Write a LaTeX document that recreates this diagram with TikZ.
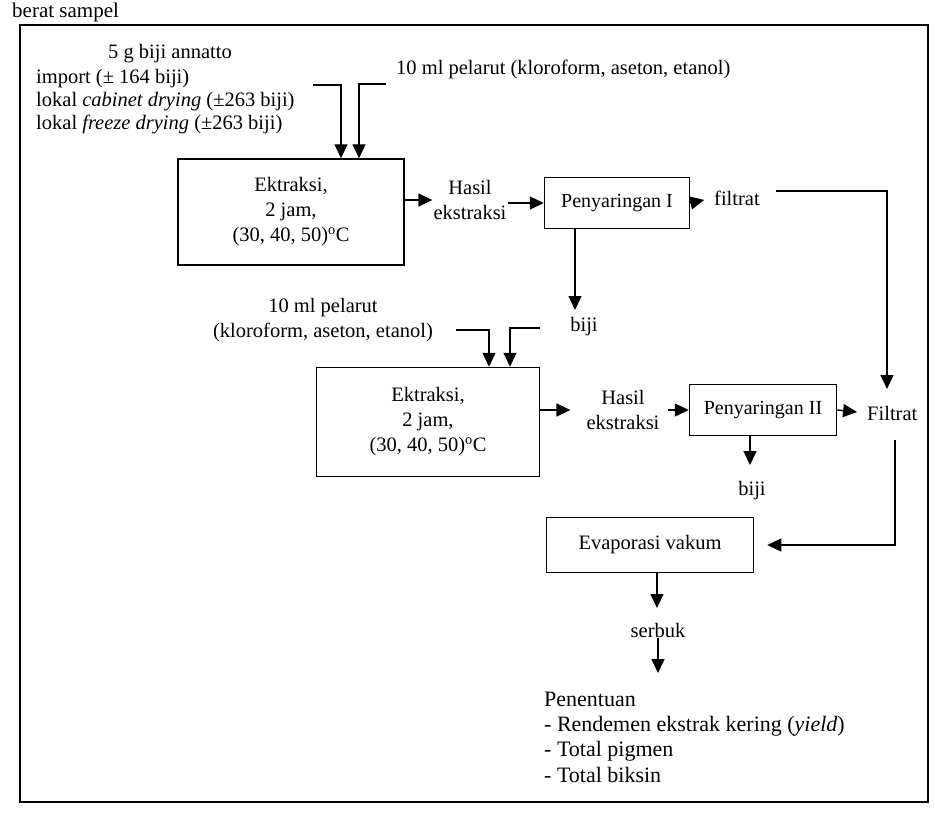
\documentclass[tikz,border=0pt]{standalone}
\usepackage{fontspec}
\setmainfont{Liberation Serif}
\usetikzlibrary{arrows.meta,calc}
\begin{document}
\begin{tikzpicture}[x=1pt,y=-1pt,
  base/.style={font=\fontsize{20.5}{25}\selectfont},
  box/.style={draw, line width=1.5pt, align=center, inner sep=0pt, base},
  pbox/.style={box, font=\fontsize{20}{23}\selectfont},
  lbl/.style={inner sep=1pt, align=center, base},
  arr/.style={line width=1.4pt, -{Triangle[length=14pt,width=13pt]}},
  frame/.style={draw, line width=1.7pt}]
\useasboundingbox (0,0) rectangle (935,812);
\fill[white] (0,0) rectangle (935,812);
% caption fragment above the frame
\node[inner sep=0pt, anchor=base west, font=\fontsize{21}{25}\selectfont] (cap) at (12,17) {berat sampel};
% frame
\draw[frame] (20,25) rectangle (928,802);

% boxes
\node[box, minimum width=226pt, minimum height=106pt] (b1) at (291,212) {Ektraksi,\\2 jam,\\(30, 40, 50)\textsuperscript{o}C};
\node[pbox, minimum width=145pt, minimum height=51pt] (p1) at (617,203) {Penyaringan I};
\node[box, minimum width=223pt, minimum height=109pt] (b2) at (428,422) {Ektraksi,\\2 jam,\\(30, 40, 50)\textsuperscript{o}C};
\node[pbox, minimum width=147pt, minimum height=51pt] (p2) at (763,410) {Penyaringan II};
\node[box, minimum width=207pt, minimum height=55pt] (ev) at (650,545) {Evaporasi vakum};

% labels
\node[lbl, anchor=base] (t5g) at (170,58) {5 g biji annatto};
\node[lbl, anchor=base west] (imp) at (35,83) {import (± 164 biji)};
\node[lbl, anchor=base west] (cab) at (35,106) {lokal \textit{cabinet drying} (±263 biji)};
\node[lbl, anchor=base west] (frz) at (35,129) {lokal \textit{freeze drying} (±263 biji)};
\node[lbl, anchor=base west] (pel1) at (395,74) {10 ml pelarut (kloroform, aseton, etanol)};
\node[lbl] (h1) at (470,200) {Hasil\\ekstraksi};
\node[lbl, anchor=west] (f1) at (713,198) {filtrat};
\node[lbl] (bj1) at (584,327) {biji};
\node[lbl] (pel2) at (323,320) {10 ml pelarut\\(kloroform, aseton, etanol)};
\node[lbl] (h2) at (623,410) {Hasil\\ekstraksi};
\node[lbl, anchor=west] (f2) at (866,413) {Filtrat};
\node[lbl] (bj2) at (752,491) {biji};
\node[lbl] (sb) at (658,630) {serbuk};
\node[lbl, align=left, anchor=west, font=\fontsize{22}{25.3}\selectfont] (pen) at (543,737)
  {Penentuan\\- Rendemen ekstrak kering (\textit{yield})\\- Total pigmen\\- Total biksin};

% helper coordinates
\coordinate (a1s) at (313,85);  \coordinate (a1x) at (341,0);
\coordinate (a2s) at (386,84);  \coordinate (a2x) at (359,0);
\coordinate (f1r) at (776,191); \coordinate (f2top) at (887,389);
\coordinate (v1) at (575,0);    \coordinate (bj1top) at (575,310);
\coordinate (c2s) at (456,330); \coordinate (c2x) at (489,0);
\coordinate (c3s) at (540,328); \coordinate (c3x) at (510,0);
\coordinate (f2b) at (895,440);
\coordinate (v2) at (750,0);    \coordinate (bj2top) at (750,465);
\coordinate (sbtop) at (657,608);
\coordinate (pentop) at (658,673);

% connectors
\draw[arr] (a1s) -| (a1x |- b1.north);
\draw[arr] (a2s) -| (a2x |- b1.north);
\draw[arr] (b1.east |- h1.west) -- (h1.west);
\draw[arr] (h1.east |- p1.west) -- (p1.west);
\draw[arr, shorten >=9pt] (p1.east) -- (f1.west);
\draw[arr] (f1r) -| (f2top);
\draw[arr] (v1 |- p1.south) -- (bj1top);
\draw[arr] (c2s) -| (c2x |- b2.north);
\draw[arr] (c3s) -| (c3x |- b2.north);
\draw[arr, shorten >=15pt] (b2.east |- h2.west) -- (h2.west);
\draw[arr, shorten <=7pt] (h2.east |- p2.west) -- (p2.west);
\draw[arr, shorten >=9pt] (p2.east) -- (f2.west);
\draw[arr, shorten >=13pt] (f2b) |- (ev.east);
\draw[arr] (v2 |- p2.south) -- (bj2top);
\draw[arr] (sbtop |- ev.south) -- (sbtop);
\draw[arr] (sb.south) -- (pentop);
\end{tikzpicture}
\end{document}
